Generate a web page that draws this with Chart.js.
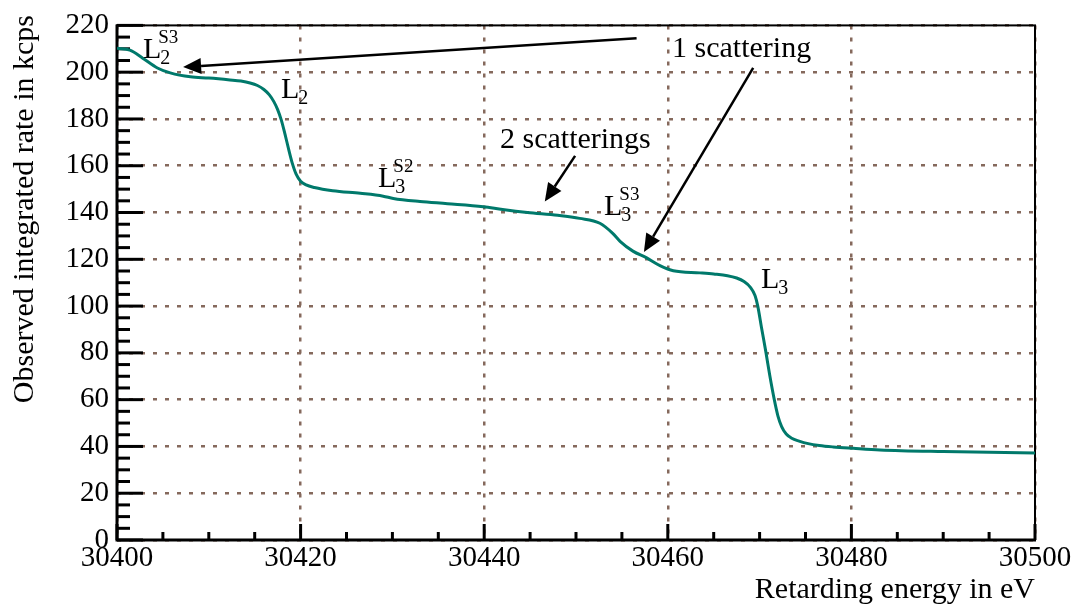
<!DOCTYPE html>
<html><head><meta charset="utf-8">
<script src="https://cdn.jsdelivr.net/npm/chart.js@4.4.0/dist/chart.umd.min.js"></script>
<style>html,body{margin:0;padding:0;background:#fff;}canvas{display:block;}</style>
</head><body>
<canvas id="c" width="1076" height="607"></canvas>
<script>
// ---- data ----
const energy = [30400, 30401.4, 30402.8, 30404.4, 30405.8, 30408, 30410, 30412.3, 30413.5, 30414.5,
  30415.3, 30416.0, 30416.6, 30417.1, 30417.5, 30417.9, 30418.3, 30418.7, 30419.1, 30419.5,
  30420.0, 30420.6, 30421.5, 30423.5, 30426.5, 30429, 30430.1, 30433, 30436, 30439.9,
  30442, 30444.7, 30448, 30450.4, 30452.6, 30454.0, 30454.8, 30456.2, 30457.7, 30459.2,
  30460.6, 30463.5, 30465, 30466.5, 30467.5, 30468.3, 30469.0, 30469.5, 30469.8, 30470.2,
  30470.7, 30471.1, 30471.6, 30472.0, 30472.4, 30472.9, 30473.5, 30474.3, 30475.3, 30476.5,
  30478, 30480.2, 30483.1, 30490, 30500];
const rate = [210.2, 209.4, 206, 201.8, 199.7, 198, 197.5, 196.7, 196.2, 195.4,
  194.3, 192.6, 190.3, 187.3, 184, 179.5, 173.5, 167, 161, 156.5,
  153.4, 151.8, 150.7, 149.3, 148.2, 147, 146, 144.7, 143.8, 142.5,
  141.3, 140, 138.8, 137.5, 135.4, 131.1, 127.7, 123.5, 120.6, 117.2,
  115.1, 114.2, 113.7, 113.0, 112.0, 110.5, 108.0, 104.5, 100, 91,
  80, 70.5, 60, 53, 48.5, 45.3, 43.5, 42.3, 41.2, 40.4,
  39.8, 39.2, 38.5, 37.8, 37.2];
const xTickValues = [30400, 30420, 30440, 30460, 30480, 30500];
const yTickValues = [0, 20, 40, 60, 80, 100, 120, 140, 160, 180, 200, 220];
const minorStepX = 5;
const minorStepY = 5;
const xAxisTitle = 'Retarding energy in eV';
const yAxisTitle = 'Observed integrated rate in kcps';
// annotation anchors in data units (energy, rate)
const peakLabels = [
  {main: 'L', sub: '2', sup: 'S3', x: 30402.83, y: 206.0},
  {main: 'L', sub: '2', sup: '',   x: 30417.86, y: 189.1},
  {main: 'L', sub: '3', sup: 'S2', x: 30428.43, y: 151.0},
  {main: 'L', sub: '3', sup: 'S3', x: 30453.05, y: 138.8},
  {main: 'L', sub: '3', sup: '',   x: 30470.15, y: 107.9}
];
const notes = [
  {text: '2 scatterings', x: 30441.72, y: 167.5},
  {text: '1 scattering',  x: 30460.46, y: 206.5}
];
const arrows = [
  {from: [30456.6, 214.5], to: [30407.2, 202.2]},
  {from: [30469.3, 201.8], to: [30457.4, 123.1]},
  {from: [30449.9, 164.2], to: [30446.6, 144.7]}
];

const serif = '"Liberation Serif", "Times New Roman", Times, serif';
const gridColor = '#85695c';

const framePlugin = {
  id: 'frame',
  beforeDatasetsDraw(chart) {
    const {ctx, chartArea: a, scales: {x, y}} = chart;
    ctx.save();
    ctx.strokeStyle = '#000';
    ctx.lineCap = 'butt';
    ctx.lineWidth = 3;
    for (let v = x.min; v <= x.max + 1e-9; v += minorStepX) {
      const px = x.getPixelForValue(v);
      const len = xTickValues.includes(v) ? 16 : 8;
      ctx.beginPath(); ctx.moveTo(px, a.bottom); ctx.lineTo(px, a.bottom - len); ctx.stroke();
    }
    for (let v = y.min; v <= y.max + 1e-9; v += minorStepY) {
      const py = y.getPixelForValue(v);
      const len = yTickValues.includes(v) ? 26 : 13;
      ctx.beginPath(); ctx.moveTo(a.left, py); ctx.lineTo(a.left + len, py); ctx.stroke();
    }
    ctx.lineWidth = 2;
    ctx.strokeRect(a.left, a.top, a.right - a.left, a.bottom - a.top);
    ctx.lineWidth = 3;
    ctx.beginPath();
    ctx.moveTo(a.left, a.top - 1); ctx.lineTo(a.left, a.bottom); ctx.lineTo(a.right + 1, a.bottom);
    ctx.stroke();
    ctx.restore();
  },
  afterDraw(chart) {
    const {ctx, chartArea: a, scales: {x, y}} = chart;
    ctx.save();
    ctx.fillStyle = '#000';
    ctx.strokeStyle = '#000';
    ctx.textBaseline = 'alphabetic';
    // axis titles
    ctx.font = '30px ' + serif;
    ctx.textAlign = 'right';
    ctx.fillText(xAxisTitle, a.right, 598);
    ctx.save();
    ctx.translate(33, 15);
    ctx.rotate(-Math.PI / 2);
    ctx.textAlign = 'right';
    ctx.fillText(yAxisTitle, 0, 0);
    ctx.restore();
    // peak labels
    ctx.textAlign = 'left';
    peakLabels.forEach(l => {
      const px = x.getPixelForValue(l.x), py = y.getPixelForValue(l.y);
      ctx.font = '30px ' + serif;
      ctx.fillText(l.main, px, py);
      const w = ctx.measureText(l.main).width;
      ctx.font = '20px ' + serif;
      ctx.fillText(l.sub, px + w - 1, py + 6);
      if (l.sup) {
        ctx.font = '19px ' + serif;
        ctx.fillText(l.sup, px + w - 3, py - 15);
      }
    });
    ctx.font = '30px ' + serif;
    notes.forEach(n => {
      ctx.fillText(n.text, x.getPixelForValue(n.x), y.getPixelForValue(n.y));
    });
    // arrows
    arrows.forEach(ar => {
      const x0 = x.getPixelForValue(ar.from[0]), y0 = y.getPixelForValue(ar.from[1]);
      const x1 = x.getPixelForValue(ar.to[0]), y1 = y.getPixelForValue(ar.to[1]);
      const ang = Math.atan2(y1 - y0, x1 - x0);
      const hl = 18, hw = 8;
      const bx = x1 - hl * Math.cos(ang), by = y1 - hl * Math.sin(ang);
      ctx.lineWidth = 2.5;
      ctx.beginPath(); ctx.moveTo(x0, y0); ctx.lineTo(bx, by); ctx.stroke();
      ctx.beginPath();
      ctx.moveTo(x1, y1);
      ctx.lineTo(bx + hw * Math.sin(ang), by - hw * Math.cos(ang));
      ctx.lineTo(bx - hw * Math.sin(ang), by + hw * Math.cos(ang));
      ctx.closePath(); ctx.fill();
    });
    ctx.restore();
  }
};

new Chart(document.getElementById('c'), {
  type: 'line',
  data: {
    datasets: [{
      data: energy.map((e, i) => ({x: e, y: rate[i]})),
      borderColor: '#00796b',
      borderWidth: 3,
      pointRadius: 0,
      fill: false,
      cubicInterpolationMode: 'monotone'
    }]
  },
  options: {
    responsive: false,
    animation: false,
    events: [],
    layout: {padding: {top: 20, right: 41, left: 0, bottom: 0}},
    plugins: {legend: {display: false}, tooltip: {enabled: false}},
    scales: {
      x: {
        type: 'linear', min: 30400, max: 30500,
        afterBuildTicks: s => { s.ticks = xTickValues.map(v => ({value: v})); },
        afterFit: s => { s.height = 67; },
        border: {display: false, dash: [4, 8]},
        grid: {drawTicks: false, color: gridColor, lineWidth: 2.5},
        ticks: {font: {family: serif, size: 29}, color: '#000', padding: 1, maxRotation: 0, autoSkip: false,
                callback: v => String(v)}
      },
      y: {
        type: 'linear', min: 0, max: 220,
        afterBuildTicks: s => { s.ticks = yTickValues.map(v => ({value: v})); },
        afterFit: s => { s.width = 117; },
        border: {display: false, dash: [4, 8]},
        grid: {drawTicks: false, color: gridColor, lineWidth: 2.5},
        ticks: {font: {family: serif, size: 29}, color: '#000', padding: 8, autoSkip: false,
                callback: v => String(v)}
      }
    }
  },
  plugins: [framePlugin]
});
</script>
</body></html>
